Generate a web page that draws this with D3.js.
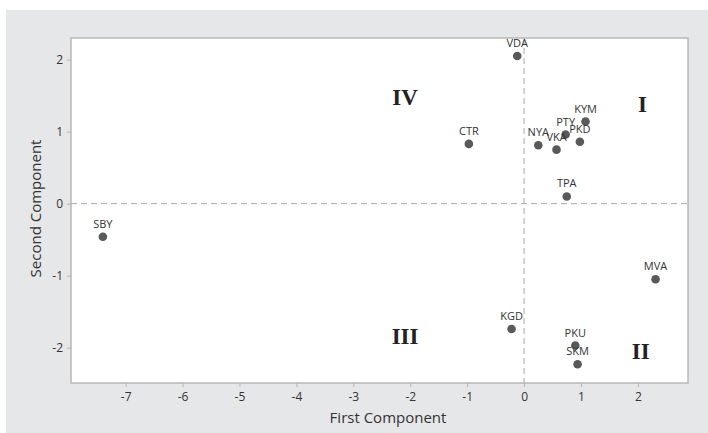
<!DOCTYPE html>
<html>
<head>
<meta charset="utf-8">
<script src="https://cdn.jsdelivr.net/npm/d3@7"></script>
<style>
  body { margin: 0; background: #fff; }
  svg { display: block; }
  .tick text { font-family: "Open Sans", "Noto Sans", sans-serif; font-size: 12px; fill: #333; }
</style>
</head>
<body>
<div id="chart"></div>
<script>
// site codes and their scores on the first two components
var sites = ["VDA", "CTR", "NYA", "VKA", "PTY", "KYM", "PKD", "TPA", "SBY", "MVA", "KGD", "PKU", "SKM"];
var firstComp = [-0.12, -0.97, 0.25, 0.57, 0.73, 1.08, 0.98, 0.75, -7.40, 2.31, -0.22, 0.90, 0.94];
var secondComp = [2.05, 0.83, 0.81, 0.75, 0.96, 1.14, 0.86, 0.10, -0.46, -1.05, -1.74, -1.97, -2.23];

// quadrant labels, placed in data units
var quadNames = ["I", "II", "III", "IV"];
var quadX = [2.08, 2.05, -2.09, -2.09];
var quadY = [1.38, -2.05, -1.83, 1.48];

var xTicks = [-7, -6, -5, -4, -3, -2, -1, 0, 1, 2];
var yTicks = [-2, -1, 0, 1, 2];

var width = 708, height = 433;
var margin = {top: 38, right: 20, bottom: 50, left: 71};

var svg = d3.select("#chart").append("svg")
  .attr("width", width)
  .attr("height", height);

// grey panel behind everything
svg.append("rect")
  .attr("x", 6).attr("y", 10)
  .attr("width", width - 6).attr("height", height - 10)
  .attr("fill", "#e6e7e8");

var x = d3.scaleLinear().domain([-7.96, 2.88]).range([margin.left, width - margin.right]);
var y = d3.scaleLinear().domain([-2.49, 2.30]).range([height - margin.bottom, margin.top]);

svg.append("rect")
  .attr("x", x.range()[0]).attr("y", y.range()[1])
  .attr("width", x.range()[1] - x.range()[0])
  .attr("height", y.range()[0] - y.range()[1])
  .attr("fill", "#fff")
  .attr("stroke", "#b8b8b8")
  .attr("stroke-width", 1.5);

// axes (plain hyphen for negatives, like the original)
var fmt = function(d){ return String(d); };
var xAxis = svg.append("g")
  .attr("transform", "translate(0," + y.range()[0] + ")")
  .call(d3.axisBottom(x).tickValues(xTicks).tickSize(4).tickPadding(5).tickFormat(fmt));
var yAxis = svg.append("g")
  .attr("transform", "translate(" + x.range()[0] + ",0)")
  .call(d3.axisLeft(y).tickValues(yTicks).tickSize(4).tickPadding(4).tickFormat(fmt));

[xAxis, yAxis].forEach(function(a){
  a.select(".domain").remove();
  a.selectAll(".tick line").attr("stroke", "#b4b4b4");
});

// reference lines at zero
svg.append("line")
  .attr("x1", x.range()[0]).attr("x2", x.range()[1])
  .attr("y1", y(0)).attr("y2", y(0))
  .attr("stroke", "#a8a8a8").attr("stroke-dasharray", "6,4");
svg.append("line")
  .attr("x1", x(0)).attr("x2", x(0))
  .attr("y1", y.range()[1]).attr("y2", y.range()[0])
  .attr("stroke", "#a8a8a8").attr("stroke-dasharray", "6,4");

var points = sites.map(function(s, i){ return {name: s, pc1: firstComp[i], pc2: secondComp[i]}; });

svg.selectAll(".dot")
  .data(points)
  .enter().append("circle")
  .attr("class", "dot")
  .attr("cx", function(d){ return x(d.pc1); })
  .attr("cy", function(d){ return y(d.pc2); })
  .attr("r", 4.3)
  .attr("fill", "#58595b");

svg.selectAll(".lbl")
  .data(points)
  .enter().append("text")
  .attr("class", "lbl")
  .attr("x", function(d){ return x(d.pc1); })
  .attr("y", function(d){ return y(d.pc2) - 9; })
  .attr("text-anchor", "middle")
  .attr("font-family", "'Open Sans', 'Noto Sans', sans-serif")
  .attr("font-size", 11)
  .attr("fill", "#333")
  .text(function(d){ return d.name; });

svg.selectAll(".quad")
  .data(quadNames)
  .enter().append("text")
  .attr("class", "quad")
  .attr("x", function(d, i){ return x(quadX[i]); })
  .attr("y", function(d, i){ return y(quadY[i]); })
  .attr("dy", "0.35em")
  .attr("text-anchor", "middle")
  .attr("font-family", "'Liberation Serif', 'DejaVu Serif', serif")
  .attr("font-weight", "bold")
  .attr("font-size", 23)
  .attr("fill", "#222")
  .text(function(d){ return d; });

// axis titles
svg.append("text")
  .attr("x", 388)
  .attr("y", 423)
  .attr("text-anchor", "middle")
  .attr("font-family", "'Open Sans', 'Noto Sans', sans-serif")
  .attr("font-size", 15)
  .attr("fill", "#333")
  .text("First Component");

svg.append("text")
  .attr("transform", "translate(41," + ((y.range()[0] + y.range()[1]) / 2 - 2) + ") rotate(-90)")
  .attr("text-anchor", "middle")
  .attr("font-family", "'Open Sans', 'Noto Sans', sans-serif")
  .attr("font-size", 15)
  .attr("fill", "#333")
  .text("Second Component");
</script>
</body>
</html>
